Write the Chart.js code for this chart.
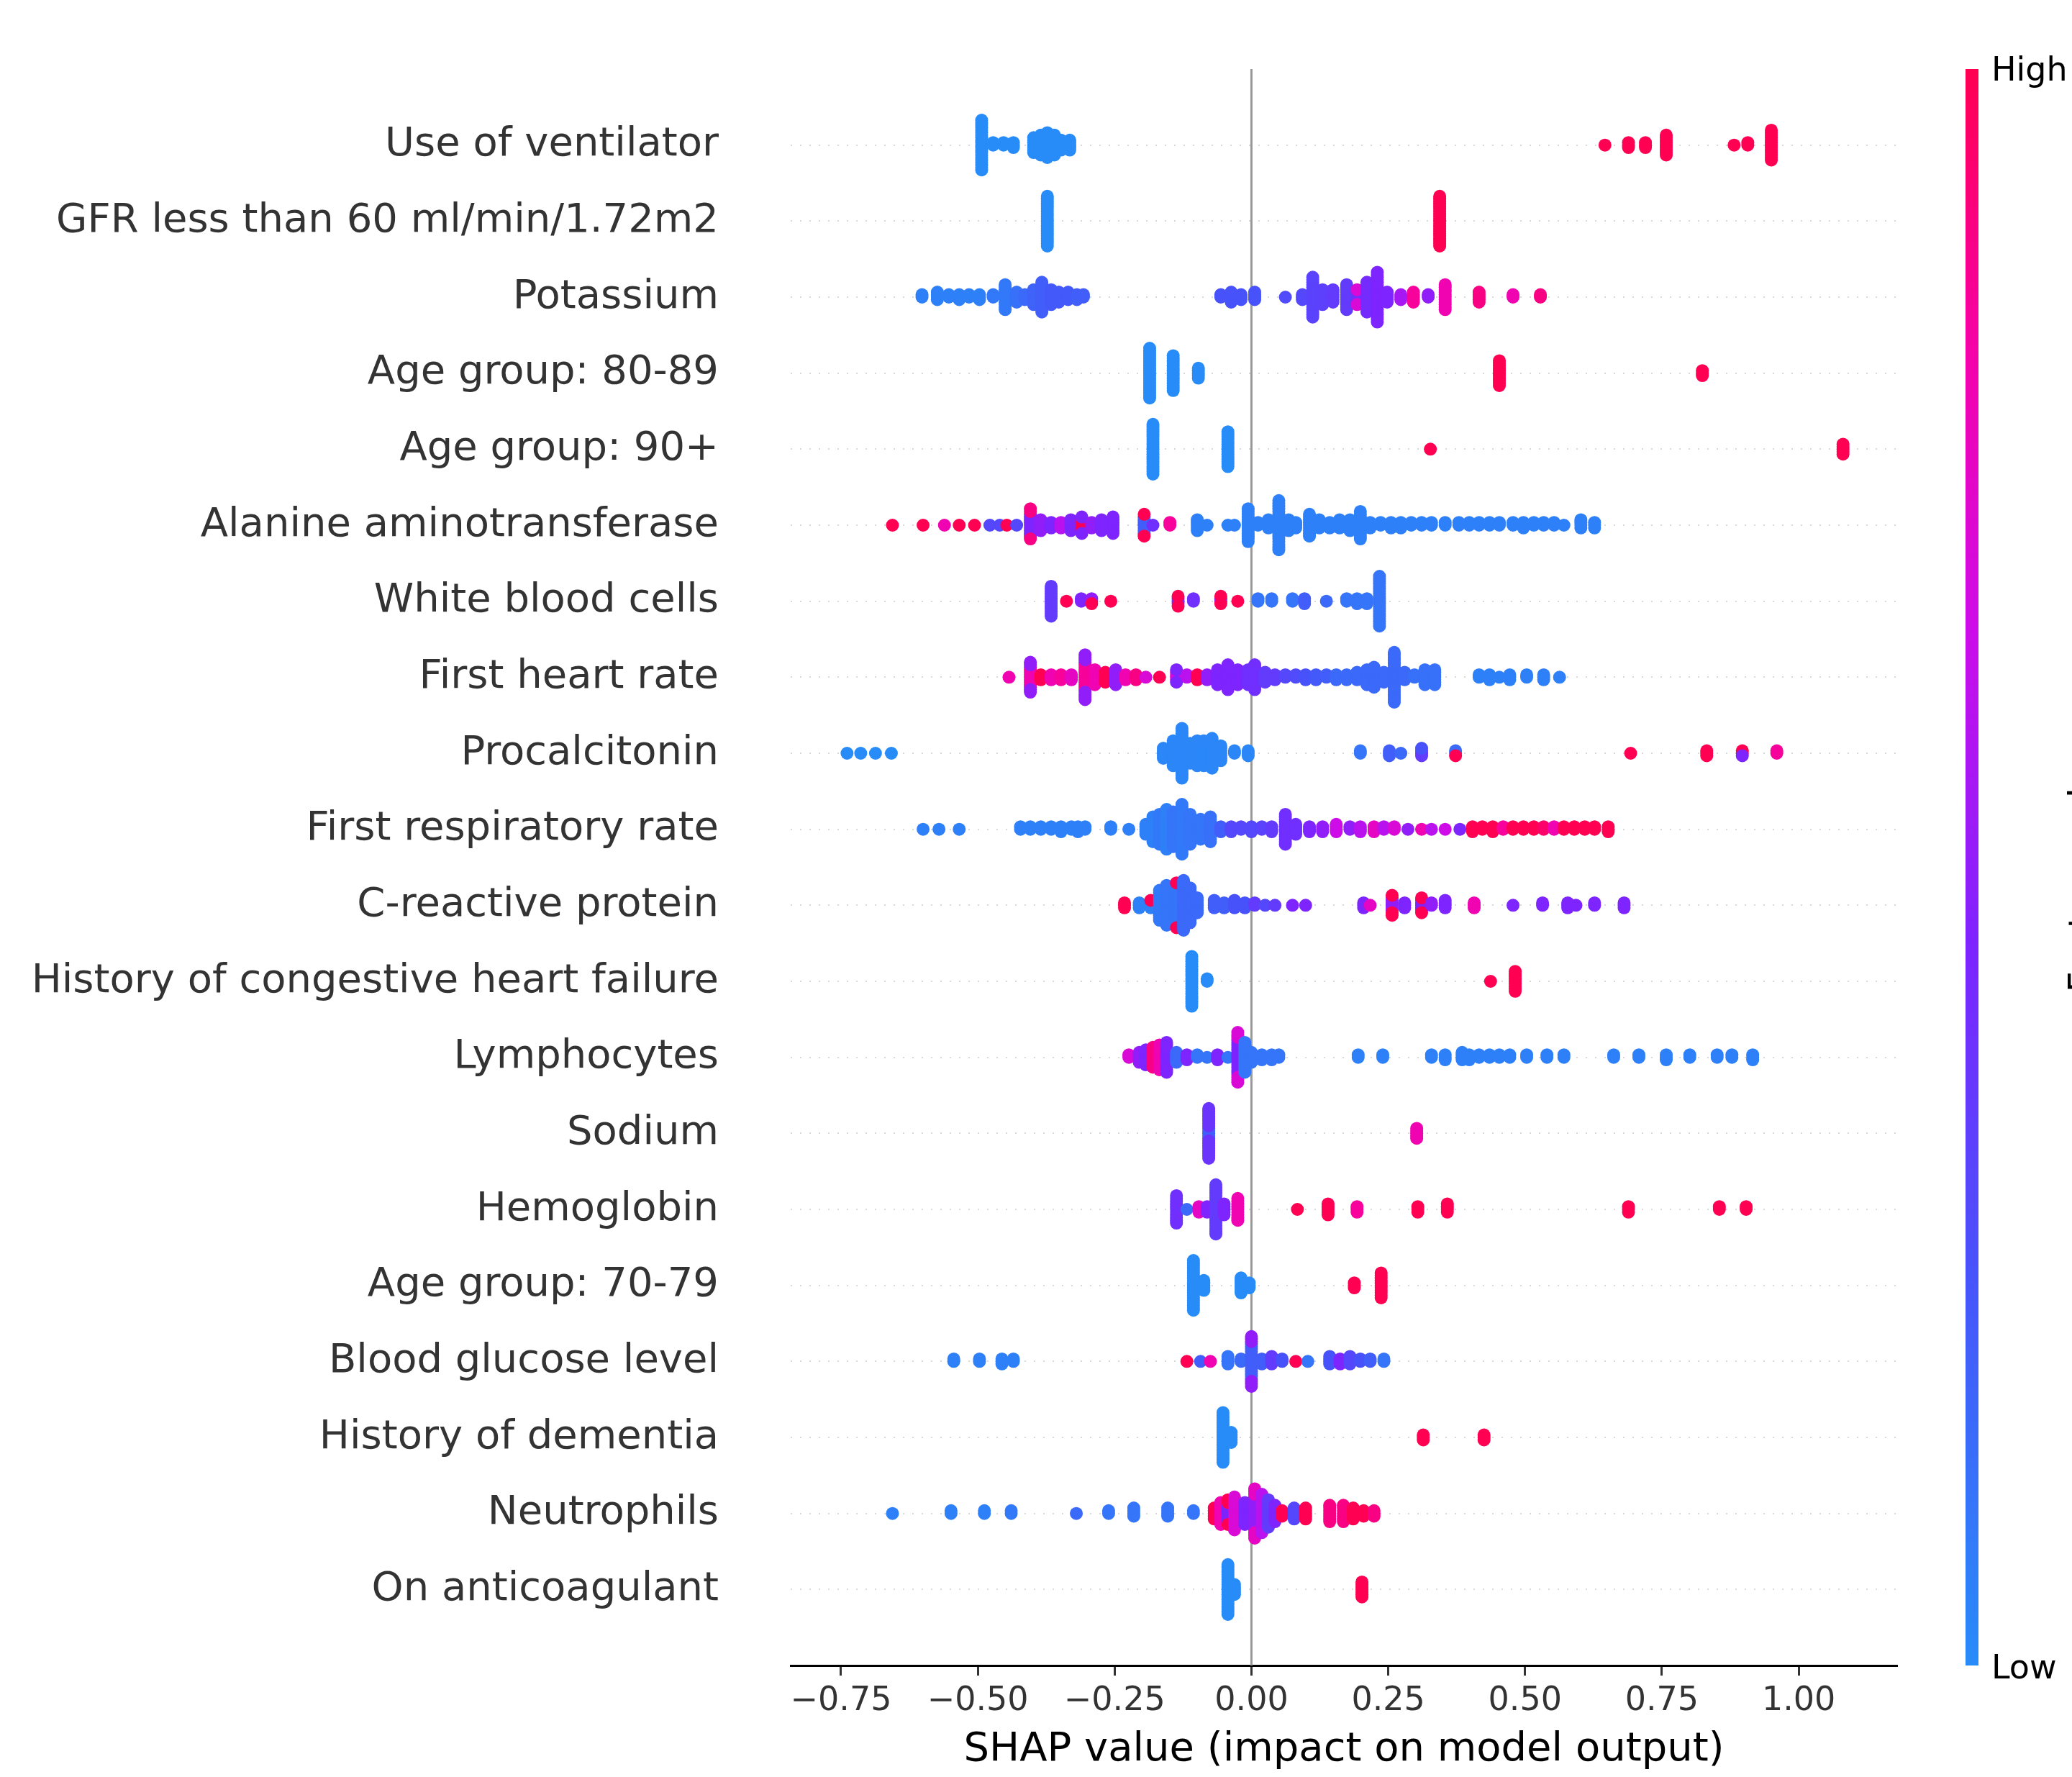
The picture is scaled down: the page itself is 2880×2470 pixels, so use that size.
<!DOCTYPE html>
<html>
<head>
<meta charset="utf-8">
<script src="https://cdn.jsdelivr.net/npm/chart.js@4.4.0/dist/chart.umd.min.js"></script>
<style>
  html, body { margin: 0; padding: 0; background: #ffffff; }
</style>
</head>
<body>
<canvas id="chart1" width="2880" height="2470"></canvas>
<script>
const features = [
    "Use of ventilator", "GFR less than 60 ml/min/1.72m2", "Potassium", "Age group: 80-89",
    "Age group: 90+", "Alanine aminotransferase", "White blood cells", "First heart rate",
    "Procalcitonin", "First respiratory rate", "C-reactive protein", "History of congestive heart failure",
    "Lymphocytes", "Sodium", "Hemoglobin", "Age group: 70-79", "Blood glucose level",
    "History of dementia", "Neutrophils", "On anticoagulant"
];
const xTicks = [-0.75, -0.5, -0.25, 0, 0.25, 0.5, 0.75, 1.0];
const xLabel = "SHAP value (impact on model output)";
const colorbarLabels = ["Low", "High"];
const colorbarTitle = "Feature value";

// each entry: [shap value, number of points stacked there, feature value 0 (low) .. 1 (high)]
const ventilator = [[-0.493,21,0],[-0.472,2,0],[-0.453,2,0],[-0.435,3,0],[-0.398,7,0],[-0.385,9,0],[-0.373,11,0],[-0.360,9,0],[-0.348,5,0],[-0.332,5,0],
    [0.646,1,1],[0.689,3,1],[0.720,3,1],[0.758,9,1],[0.882,1,1],[0.907,2,1],[0.950,13,1]];
const gfr = [[-0.373,21,0],[0.344,21,1]];
const potassium = [[-0.602,2,0.05],[-0.574,4,0.05],[-0.553,2,0.05],[-0.534,3,0.05],[-0.516,2,0.05],[-0.497,3,0.05],[-0.472,2,0.08],[-0.450,11,0.08],
    [-0.429,5,0.12],[-0.414,3,0.15],[-0.398,7,0.18],[-0.383,13,0.2],[-0.366,7,0.22],[-0.352,5,0.22],[-0.335,4,0.22],[-0.319,3,0.2],[-0.307,2,0.2],
    [-0.056,2,0.25],[-0.037,5,0.25],[-0.019,3,0.25],[0.006,4,0.25],[0.062,1,0.28],
    [0.093,3,0.3],[0.112,17,0.32],[0.130,7,0.33],[0.149,6,0.35],[0.174,11,0.35],[0.193,5,0.4],[0.193,2,0.7],[0.211,13,0.42],[0.230,21,0.45],
    [0.248,5,0.45],[0.273,3,0.55],[0.296,5,0.85],[0.323,2,0.5],[0.354,11,0.8],[0.416,5,0.9],[0.478,2,0.8],[0.528,2,0.9]];
const age8089 = [[-0.186,21,0],[-0.143,15,0],[-0.097,5,0],[0.453,11,1],[0.824,3,1]];
const age90 = [[-0.180,21,0],[-0.043,15,0],[0.327,1,1],[1.081,5,1]];
const alanine = [[-0.656,1,1],[-0.600,1,1],[-0.561,1,0.8],[-0.534,1,1],[-0.506,1,1],[-0.478,1,0.3],[-0.460,1,0.3],[-0.447,1,1],[-0.429,1,0.3],
    [-0.404,9,0.45],[-0.404,3,0.9],[-0.385,5,0.5],[-0.366,3,0.45],[-0.348,3,0.6],[-0.330,5,0.45],[-0.310,5,1],[-0.310,2,0.45],[-0.292,3,0.5],
    [-0.274,5,0.45],[-0.253,7,0.45],[-0.196,7,0.2],[-0.196,2,1],[-0.180,1,0.4],[-0.149,2,0.85],
    [-0.099,5,0.05],[-0.081,1,0.05],[-0.043,1,0.05],[-0.031,1,0.05],[-0.006,13,0.05],[0.012,2,0.05],[0.031,4,0.05],[0.050,19,0.05],[0.068,5,0.05],
    [0.081,3,0.05],[0.106,9,0.05],[0.124,4,0.05],[0.143,3,0.05],[0.161,4,0.05],[0.180,5,0.05],[0.199,11,0.05],[0.217,3,0.05],[0.236,2,0.05],
    [0.255,3,0.05],[0.273,3,0.05],[0.292,2,0.05],[0.311,2,0.05],[0.329,2,0.05],[0.354,2,0.05],[0.379,2,0.05],[0.398,2,0.05],[0.416,2,0.05],
    [0.435,2,0.05],[0.453,2,0.05],[0.478,2,0.05],[0.497,3,0.05],[0.516,2,0.05],[0.534,2,0.05],[0.553,2,0.05],[0.571,1,0.05],[0.602,4,0.05],[0.627,3,0.05]];
const whiteBloodCells = [[-0.366,13,0.35],[-0.338,1,1],[-0.311,2,0.45],[-0.292,2,0.5],[-0.292,1,1],[-0.257,1,1],
    [-0.134,3,0.45],[-0.134,2,1],[-0.106,2,0.4],[-0.056,2,0.45],[-0.056,2,1],[-0.025,1,1],
    [0.012,2,0.1],[0.037,2,0.1],[0.075,2,0.1],[0.097,3,0.2],[0.137,1,0.15],[0.174,2,0.1],[0.193,3,0.1],[0.211,3,0.1],[0.234,21,0.1]];
const heartRate = [[-0.443,1,0.8],[-0.404,9,0.8],[-0.404,4,0.5],[-0.385,3,1],[-0.366,3,0.8],[-0.348,3,0.85],[-0.329,3,0.75],[-0.304,12,0.85],
    [-0.304,7,0.5],[-0.286,7,0.8],[-0.267,5,1],[-0.248,7,0.5],[-0.230,3,0.8],[-0.211,3,0.9],[-0.193,1,0.7],[-0.168,1,1],
    [-0.137,4,0.7],[-0.137,2,0.45],[-0.118,2,0.6],[-0.099,3,1],[-0.081,3,0.5],[-0.062,7,0.45],[-0.043,11,0.45],[-0.025,7,0.45],[-0.006,7,0.4],
    [0.006,11,0.4],[0.025,5,0.35],[0.043,3,0.35],[0.062,2,0.3],[0.081,2,0.28],[0.099,3,0.25],[0.118,3,0.22],[0.137,2,0.2],[0.155,3,0.15],
    [0.174,3,0.15],[0.193,4,0.15],[0.211,7,0.15],[0.224,9,0.15],[0.242,5,0.15],[0.261,21,0.15],[0.280,4,0.15],[0.298,2,0.12],[0.317,7,0.12],
    [0.335,7,0.12],[0.416,2,0.05],[0.435,3,0.05],[0.453,1,0.05],[0.472,3,0.05],[0.503,2,0.05],[0.534,3,0.05],[0.563,1,0.05]];
const procalcitonin = [[-0.739,1,0],[-0.714,1,0],[-0.687,1,0],[-0.658,1,0],
    [-0.161,5,0.02],[-0.143,11,0.02],[-0.127,21,0.02],[-0.112,9,0.02],[-0.099,11,0.02],[-0.087,11,0.02],[-0.072,13,0.02],[-0.056,7,0.02],
    [-0.031,2,0.02],[-0.006,3,0.02],[0.199,2,0.1],[0.252,3,0.2],[0.273,1,0.15],[0.311,3,0.35],[0.311,1,0.25],[0.373,2,0.15],[0.373,1,1],
    [0.693,1,1],[0.832,3,1],[0.897,2,1],[0.897,1,0.45],[0.960,2,0.85]];
const respiratoryRate = [[-0.600,1,0.05],[-0.571,1,0.05],[-0.534,1,0.05],
    [-0.422,2,0.05],[-0.404,2,0.05],[-0.385,2,0.05],[-0.366,2,0.05],[-0.348,3,0.05],[-0.329,2,0.05],[-0.317,3,0.05],[-0.304,2,0.05],
    [-0.257,2,0.05],[-0.224,1,0.05],[-0.193,5,0.05],[-0.180,11,0.05],[-0.168,13,0.08],[-0.155,17,0.05],[-0.143,15,0.1],[-0.127,21,0.08],
    [-0.112,13,0.1],[-0.093,9,0.1],[-0.075,11,0.12],[-0.056,3,0.2],
    [-0.037,3,0.3],[-0.019,2,0.3],[0.000,3,0.3],[0.019,2,0.32],[0.037,3,0.35],[0.062,13,0.4],[0.081,5,0.4],[0.106,3,0.45],[0.130,3,0.5],
    [0.155,4,0.65],[0.180,2,0.5],[0.199,3,0.6],[0.224,3,0.75],[0.242,2,0.6],[0.261,2,0.7],[0.286,1,0.5],[0.311,1,0.8],[0.329,1,0.6],
    [0.354,1,0.65],[0.381,1,0.45],
    [0.404,3,1],[0.422,2,1],[0.441,3,1],[0.460,2,0.85],[0.478,2,1],[0.497,2,1],[0.516,2,1],[0.534,2,0.95],[0.553,2,0.8],[0.571,2,1],
    [0.590,2,1],[0.609,2,1],[0.627,2,1],[0.652,3,1]];
const cReactive = [[-0.232,3,1],[-0.205,3,0.05],[-0.184,3,0.05],[-0.184,1,1],[-0.168,13,0.08],[-0.155,17,0.1],[-0.137,17,0.1],[-0.137,2,1],
    [-0.124,21,0.15],[-0.112,15,0.15],[-0.099,7,0.15],
    [-0.068,4,0.2],[-0.050,3,0.2],[-0.031,4,0.25],[-0.012,3,0.25],[0.006,2,0.35],[0.025,1,0.3],[0.043,1,0.35],[0.075,1,0.45],[0.099,1,0.45],
    [0.205,3,0.45],[0.217,1,0.75],[0.257,6,0.5],[0.257,3,1],[0.280,3,0.45],[0.311,5,0.45],[0.311,2,1],[0.329,2,0.5],[0.354,4,0.45],[0.407,3,0.8],
    [0.478,1,0.45],[0.532,2,0.45],[0.578,3,0.45],[0.593,1,0.45],[0.627,2,0.45],[0.681,3,0.45]];
const heartFailure = [[-0.109,21,0],[-0.081,2,0],[0.437,1,1],[0.482,9,1]];
const lymphocytes = [[-0.224,2,0.7],[-0.205,5,0.5],[-0.193,7,0.45],[-0.180,9,0.9],[-0.168,11,0.8],[-0.155,13,0.45],[-0.137,5,0.15],
    [-0.118,3,0.45],[-0.099,2,0.1],[-0.081,1,0.1],[-0.062,3,0.45],[-0.043,1,0.1],[-0.025,15,0.45],[-0.025,6,0.7],[-0.012,13,0.1],
    [0.000,5,0.1],[0.019,3,0.1],[0.037,3,0.1],[0.050,2,0.1],
    [0.195,2,0.05],[0.240,2,0.05],[0.329,2,0.05],[0.354,3,0.05],[0.385,4,0.05],[0.398,3,0.05],[0.416,2,0.05],[0.435,2,0.05],[0.453,2,0.05],
    [0.472,2,0.05],[0.503,2,0.05],[0.540,2,0.05],[0.571,2,0.05],[0.662,2,0.05],[0.708,2,0.05],[0.758,3,0.05],[0.801,2,0.05],[0.851,2,0.05],
    [0.878,2,0.05],[0.916,3,0.05]];
const sodium = [[-0.078,5,0.2],[-0.078,16,0.38],[0.302,5,0.8]];
const hemoglobin = [[-0.137,11,0.4],[-0.118,1,0.15],[-0.096,3,0.75],[-0.081,3,0.45],[-0.065,19,0.35],[-0.050,5,0.45],[-0.025,9,0.8],
    [0.084,1,1],[0.140,5,1],[0.193,3,0.85],[0.304,3,1],[0.358,4,1],[0.689,3,1],[0.855,2,1],[0.904,2,1]];
const age7079 = [[-0.106,21,0],[-0.087,5,0],[-0.019,7,0],[-0.004,3,0],[0.188,3,1],[0.237,11,1]];
const bloodGlucose = [[-0.544,2,0.05],[-0.497,2,0.05],[-0.456,3,0.05],[-0.435,2,0.05],
    [-0.118,1,1],[-0.093,1,0.2],[-0.075,1,0.8],[-0.043,4,0.1],[-0.019,2,0.15],[0.000,15,0.2],[0.000,6,0.5],[0.019,3,0.2],[0.037,4,0.35],
    [0.056,2,0.25],[0.081,1,1],[0.103,1,0.1],[0.143,4,0.25],[0.162,3,0.45],[0.180,4,0.3],[0.199,2,0.25],[0.217,2,0.2],[0.242,2,0.1]];
const dementia = [[-0.052,21,0],[-0.037,5,0],[0.314,3,1],[0.425,3,1]];
const neutrophils = [[-0.656,1,0.05],[-0.549,2,0.05],[-0.488,2,0.05],[-0.439,2,0.08],[-0.320,1,0.15],[-0.261,2,0.1],[-0.215,4,0.1],
    [-0.153,4,0.1],[-0.106,2,0.1],
    [-0.068,5,1],[-0.056,9,0.8],[-0.043,7,0.45],[-0.043,3,1],[-0.031,13,0.7],[-0.012,9,0.45],[0.006,13,0.5],[0.006,6,0.75],[0.019,15,0.6],
    [0.031,11,0.35],[0.043,7,0.45],[0.056,3,1],[0.078,5,0.3],[0.099,5,1],
    [0.143,7,0.9],[0.168,7,0.9],[0.186,5,1],[0.205,3,1],[0.224,3,0.9]];
const anticoagulant = [[-0.043,21,0],[-0.031,5,0],[0.202,7,1]];

const rowData = [ventilator, gfr, potassium, age8089, age90, alanine, whiteBloodCells, heartRate, procalcitonin,
    respiratoryRate, cReactive, heartFailure, lymphocytes, sodium, hemoglobin, age7079, bloodGlucose, dementia,
    neutrophils, anticoagulant];

// blue -> violet -> magenta -> red, like shap's red_blue map
const cmapStops = [
    [0.00, [40, 140, 248]],
    [0.25, [72, 82, 250]],
    [0.45, [125, 36, 255]],
    [0.65, [205, 12, 232]],
    [0.82, [245, 2, 170]],
    [1.00, [255, 0, 82]]
];
function shapColor(t) {
    for (let i = 1; i < cmapStops.length; i++) {
        const [t1, c1] = cmapStops[i];
        const [t0, c0] = cmapStops[i - 1];
        if (t <= t1) {
            const f = (t - t0) / (t1 - t0);
            return 'rgb(' + c0.map((v, j) => Math.round(v + (c1[j] - v) * f)).join(',') + ')';
        }
    }
    return 'rgb(' + cmapStops[cmapStops.length - 1][1].join(',') + ')';
}

// beeswarm: points sharing a value are stacked in alternating layers
const points = [];
const pointColors = [];
rowData.forEach((groups, i) => {
    const base = features.length - 1 - i;
    const layers = {};
    const pts = [];
    groups.forEach(([shap, n, fv]) => {
        for (let k = 0; k < n; k++) {
            const layer = layers[shap] || 0;
            layers[shap] = layer + 1;
            pts.push({ x: shap, off: Math.ceil(layer / 2) * ((layer % 2) * 2 - 1), fv: fv });
        }
    });
    const top = Math.max(...pts.map(p => p.off));
    const k = 0.9 * 0.4 / (top + 1);
    pts.forEach(p => {
        points.push({ x: p.x, y: base + p.off * k });
        pointColors.push(shapColor(p.fv));
    });
});

const FONT = "DejaVu Sans";

const decorations = {
    id: 'decorations',
    beforeDatasetsDraw(chart) {
        const c = chart.ctx, area = chart.chartArea;
        const x0 = chart.scales.x.getPixelForValue(0);
        c.save();
        c.strokeStyle = '#999999';
        c.lineWidth = 3;
        c.beginPath();
        c.moveTo(x0, area.top);
        c.lineTo(x0, area.bottom);
        c.stroke();
        c.restore();
    },
    afterDraw(chart) {
        const c = chart.ctx, area = chart.chartArea;
        const left = area.right + 95, width = 18;
        const grad = c.createLinearGradient(0, area.bottom, 0, area.top);
        for (let s = 0; s <= 40; s++) grad.addColorStop(s / 40, shapColor(s / 40));
        c.save();
        c.fillStyle = grad;
        c.fillRect(left, area.top, width, area.bottom - area.top);

        c.fillStyle = '#000000';
        c.font = '46px "' + FONT + '"';
        c.textAlign = 'left';
        c.textBaseline = 'alphabetic';
        c.fillText(colorbarLabels[1], left + 36, area.top + 16);
        c.fillText(colorbarLabels[0], left + 36, area.bottom + 18);

        c.font = '51px "' + FONT + '"';
        c.translate(2912, (area.top + area.bottom) / 2);
        c.rotate(-Math.PI / 2);
        c.textAlign = 'center';
        c.fillText(colorbarTitle, 0, 0);
        c.restore();
    }
};

const configurations = {
    type: 'scatter',
    data: {
        datasets: [{
            data: points,
            pointRadius: 9,
            pointHoverRadius: 9,
            pointBorderWidth: 0,
            pointBackgroundColor: pointColors,
            showLine: false
        }]
    },
    options: {
        responsive: false,
        animation: false,
        events: [],
        devicePixelRatio: 1,
        layout: { padding: { left: 0, right: 243, top: 96, bottom: 0 } },
        scales: {
            x: {
                type: 'linear',
                min: -0.842,
                max: 1.18,
                afterBuildTicks: scale => { scale.ticks = xTicks.map(v => ({ value: v })); },
                afterFit: scale => { scale.height = 155; },
                grid: {
                    drawOnChartArea: false,
                    drawTicks: true,
                    tickLength: 14,
                    tickColor: '#333333',
                    tickWidth: 3
                },
                border: { display: true, color: '#000000', width: 3 },
                ticks: {
                    autoSkip: false,
                    maxRotation: 0,
                    padding: 8,
                    color: '#333333',
                    font: { family: FONT, size: 46 },
                    callback: v => v.toFixed(2).replace('-', '\u2212')
                },
                title: {
                    display: true,
                    text: xLabel,
                    color: '#000000',
                    font: { family: FONT, size: 56 },
                    padding: { top: 0, bottom: 4 }
                }
            },
            y: {
                type: 'linear',
                min: -1,
                max: features.length,
                afterBuildTicks: scale => { scale.ticks = features.map((f, i) => ({ value: i })); },
                afterFit: scale => { scale.width = 1099; },
                grid: {
                    display: true,
                    drawTicks: true,
                    tickLength: 100,
                    tickColor: 'rgba(0,0,0,0)',
                    color: '#d8d8d8',
                    lineWidth: 2
                },
                border: { display: false, dash: [2, 11] },
                ticks: {
                    autoSkip: false,
                    padding: 0,
                    color: '#333333',
                    font: { family: FONT, size: 56 },
                    callback: v => features[features.length - 1 - v]
                }
            }
        },
        plugins: {
            legend: { display: false },
            tooltip: { enabled: false }
        }
    },
    plugins: [decorations]
};

const contexte = document.querySelector('#chart1').getContext('2d');
let graphique = new Chart(contexte, configurations);
</script>
</body>
</html>
